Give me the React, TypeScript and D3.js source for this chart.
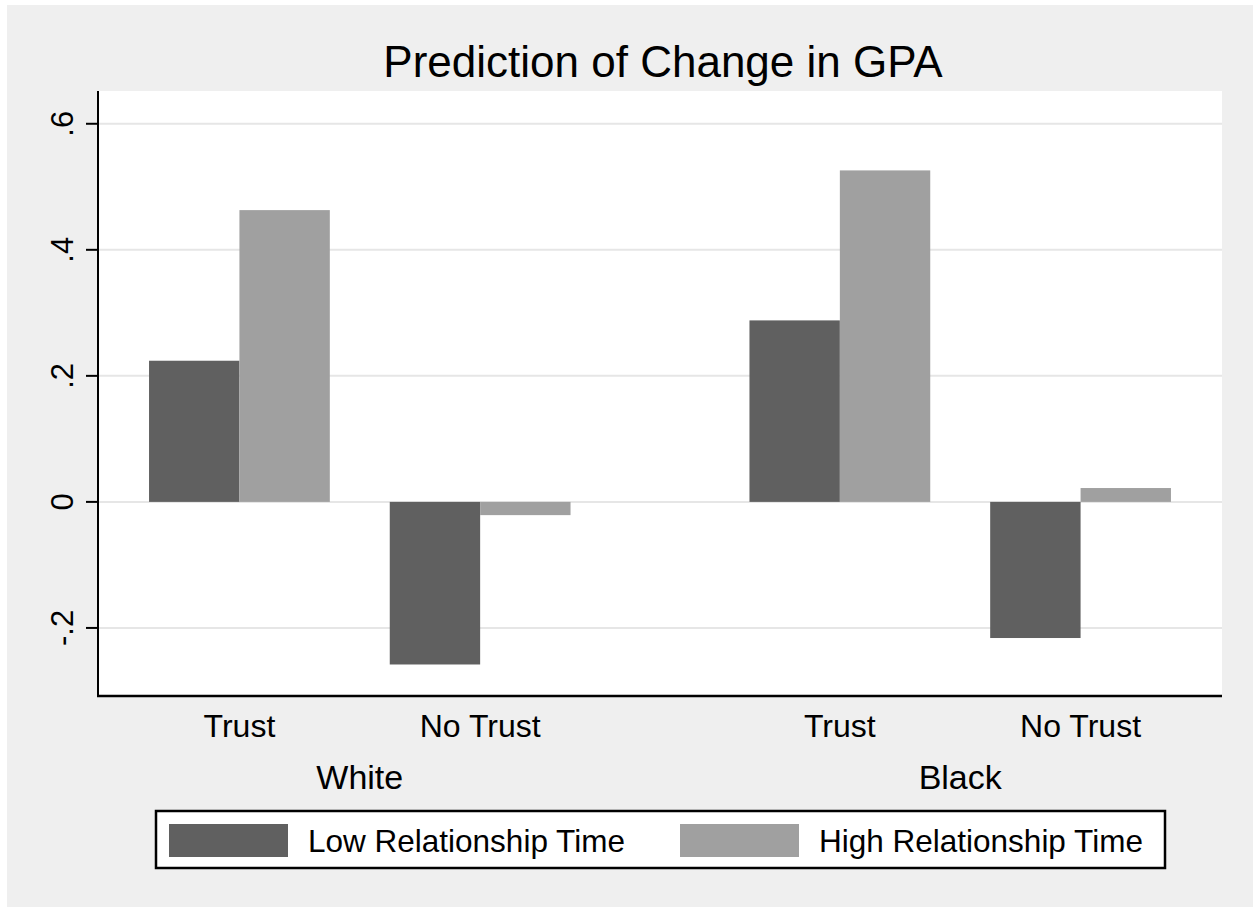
import React from 'react';
import * as d3 from 'd3';

const groups = ['White', 'Black'];
const conditions = ['Trust', 'No Trust'];
const seriesNames = ['Low Relationship Time', 'High Relationship Time'];
// values per group, in condition order
const lowTime = [[0.224, -0.258], [0.288, -0.216]];
const highTime = [[0.463, -0.021], [0.526, 0.022]];
const yTicks = [-0.2, 0, 0.2, 0.4, 0.6];
const yTickLabels = ['-.2', '0', '.2', '.4', '.6'];

const W = 1253;
const H = 907;
const left = 98;
const right = 1222;
const top = 91;
const bottom = 696;
const colors = ['#606060', '#a0a0a0'];
const font = '"Liberation Sans", Arial, sans-serif';

const App = () => {
  const y = d3.scaleLinear().domain([-0.308, 0.652]).range([bottom, top]);

  const xGroup = d3.scaleBand<string>()
    .domain(groups)
    .range([left, right])
    .paddingInner(0.298)
    .paddingOuter(0.085);

  const xCond = d3.scaleBand<string>()
    .domain(conditions)
    .range([0, xGroup.bandwidth()])
    .paddingInner(0.249)
    .paddingOuter(0);

  const xSeries = d3.scaleBand<string>()
    .domain(seriesNames)
    .range([0, xCond.bandwidth()])
    .padding(0);

  const series = [lowTime, highTime];

  return (
    <svg width={W} height={H} style={{ position: 'absolute', left: 0, top: 0 }} fontFamily={font}>
      <rect x={0} y={0} width={W} height={H} fill="#ffffff" />
      <rect x={7} y={5} width={W - 7} height={H - 5} fill="#efefef" />
      <rect x={left} y={top} width={right - left} height={bottom - top} fill="#ffffff" />

      {/* gridlines */}
      {yTicks.map((t) => (
        <line key={'g' + t} x1={left} x2={right} y1={y(t)} y2={y(t)} stroke="#e6e6e6" strokeWidth={2} />
      ))}

      {/* bars */}
      {groups.map((g, gi) =>
        conditions.map((c, ci) =>
          series.map((s, si) => {
            const v = s[gi][ci];
            const x0 = xGroup(g)! + xCond(c)! + xSeries(seriesNames[si])!;
            return (
              <rect
                key={g + c + si}
                x={x0}
                y={y(Math.max(0, v))}
                width={xSeries.bandwidth()}
                height={Math.abs(y(v) - y(0))}
                fill={colors[si]}
              />
            );
          })
        )
      )}

      {/* axes */}
      <line x1={left} x2={left} y1={top} y2={bottom + 1} stroke="#000" strokeWidth={2} />
      <line x1={left - 1} x2={right} y1={bottom} y2={bottom} stroke="#000" strokeWidth={2.5} />
      {yTicks.map((t, i) => (
        <g key={'t' + t}>
          <line x1={left - 12} x2={left} y1={y(t)} y2={y(t)} stroke="#000" strokeWidth={2} />
          <text
            transform={`translate(73,${y(t)}) rotate(-90)`}
            textAnchor="middle"
            fontSize={31}
            fill="#000"
          >
            {yTickLabels[i]}
          </text>
        </g>
      ))}

      {/* category labels */}
      {groups.map((g) =>
        conditions.map((c) => (
          <text
            key={'c' + g + c}
            x={xGroup(g)! + xCond(c)! + xCond.bandwidth() / 2}
            y={737}
            textAnchor="middle"
            fontSize={32}
            fill="#000"
          >
            {c}
          </text>
        ))
      )}
      {groups.map((g) => (
        <text
          key={'gl' + g}
          x={xGroup(g)! + xGroup.bandwidth() / 2}
          y={789}
          textAnchor="middle"
          fontSize={34}
          fill="#000"
        >
          {g}
        </text>
      ))}

      {/* title */}
      <text x={663} y={77} textAnchor="middle" fontSize={44} fill="#000">
        Prediction of Change in GPA
      </text>

      {/* legend */}
      <rect x={156} y={811} width={1009} height={57} fill="#fff" stroke="#000" strokeWidth={2.5} />
      {seriesNames.map((s, i) => {
        const sx = i === 0 ? 169 : 680;
        return (
          <g key={'l' + s}>
            <rect x={sx} y={824} width={119} height={33} fill={colors[i]} />
            <text x={sx + 139} y={852} fontSize={31.5} fill="#000">
              {s}
            </text>
          </g>
        );
      })}
    </svg>
  );
};

export default App;
